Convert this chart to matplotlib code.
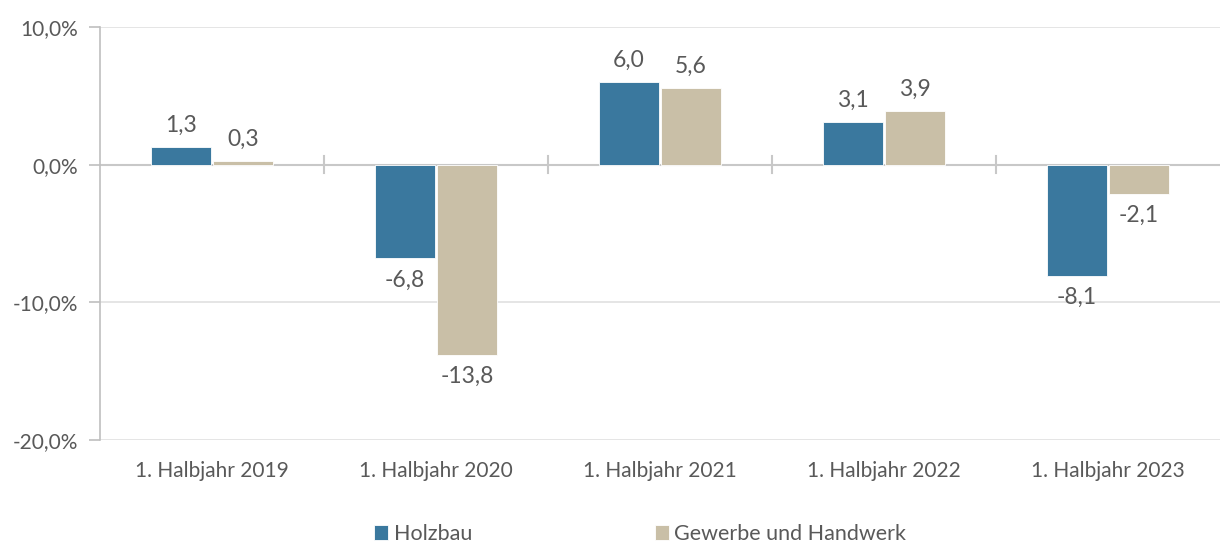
import matplotlib
matplotlib.use("Agg")
import matplotlib.pyplot as plt
import numpy as np

categories = ["1. Halbjahr 2019", "1. Halbjahr 2020", "1. Halbjahr 2021", "1. Halbjahr 2022", "1. Halbjahr 2023"]
holzbau = [1.3, -6.8, 6.0, 3.1, -8.1]
gewerbe = [0.3, -13.8, 5.6, 3.9, -2.1]
series_names = ["Holzbau", "Gewerbe und Handwerk"]
yticks = [-20, -10, 0, 10]

c_holz = "#3A789E"
c_gew = "#C9BFA7"
txt = "#595959"

plt.rcParams['font.family'] = ['Lato', 'DejaVu Sans']

fig = plt.figure(figsize=(12.22, 5.42), dpi=100)
ax = fig.add_axes([100/1222, 1-440/542, 1120/1222, (440-27)/542])

x = np.arange(len(categories))
w = 0.268
off = 0.139
b1 = ax.bar(x - off, holzbau, w, color=c_holz, edgecolor="white", linewidth=0.6, label=series_names[0], zorder=3)
b2 = ax.bar(x + off, gewerbe, w, color=c_gew, edgecolor="white", linewidth=0.6, label=series_names[1], zorder=3)

ax.set_xlim(-0.5, len(categories) - 0.5)
ax.set_ylim(-20, 10)
ax.set_yticks(yticks)
ax.set_yticklabels([f"{v:.1f}%".replace(".", ",") for v in yticks], color=txt, fontsize=15)
ax.tick_params(axis='y', length=8, color="#BFBFBF", width=1.2, pad=8)

for v in [-20, -10, 10]:
    ax.axhline(v, color="#E0E0E0", linewidth=1.2, zorder=1)
ax.axhline(0, color="#C8C8C8", linewidth=1.5, zorder=2)
for b in np.arange(0.5, len(categories) - 0.5, 1.0):
    ax.plot([b, b], [-0.6, 0.6], color="#C8C8C8", linewidth=1.5, zorder=2)

for s in ["top", "right", "bottom"]:
    ax.spines[s].set_visible(False)
ax.spines["left"].set_color("#BFBFBF")
ax.spines["left"].set_linewidth(1.2)

ax.set_xticks(x)
ax.set_xticklabels(categories, color=txt, fontsize=15)
ax.tick_params(axis='x', length=0, pad=15)

def label(bars, vals):
    for rect, v in zip(bars, vals):
        cx = rect.get_x() + rect.get_width() / 2
        s = f"{v:.1f}".replace(".", ",")
        if v >= 0:
            ax.annotate(s, (cx, v), xytext=(0, 8), textcoords="offset points",
                        ha="center", va="bottom", fontsize=16.5, color=txt)
        else:
            ax.annotate(s, (cx, v), xytext=(0, -8), textcoords="offset points",
                        ha="center", va="top", fontsize=16.5, color=txt)

label(b1, holzbau)
label(b2, gewerbe)

fig.legend(handles=[b1, b2], labels=series_names, loc="center", bbox_to_anchor=(0.524, 1-534/542),
           ncol=2, frameon=False, fontsize=15.5, handlelength=0.65, handleheight=0.65,
           handletextpad=0.25, columnspacing=8.5, labelcolor=txt)

fig.savefig("out.png", dpi=100)
